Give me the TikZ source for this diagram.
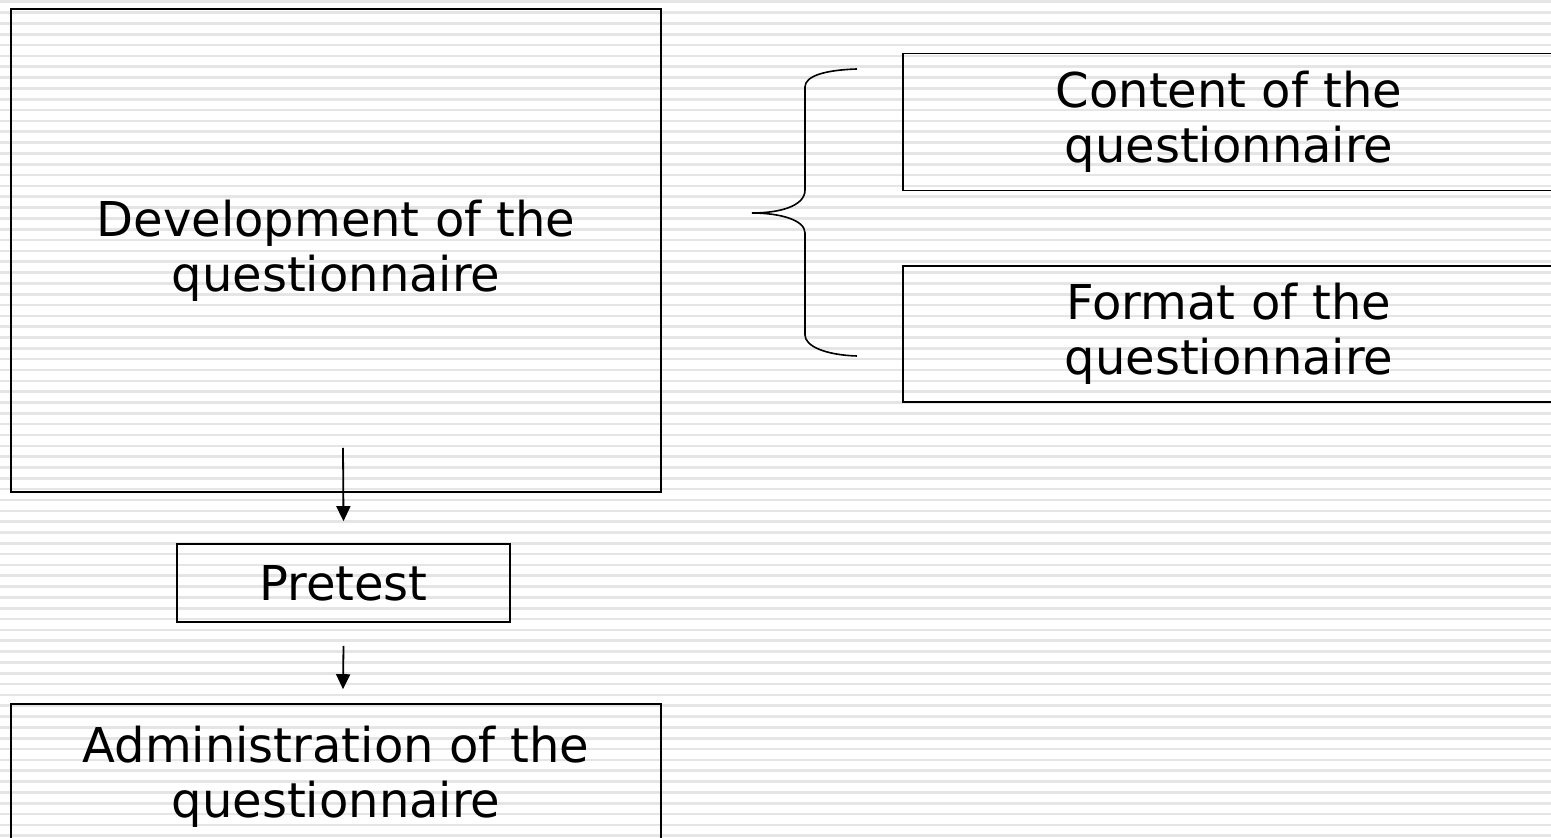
\documentclass[tikz,border=0pt]{standalone}
\usepackage{fontspec}
\setmainfont{DejaVu Sans}
\usetikzlibrary{arrows.meta}

\begin{document}
\begin{tikzpicture}[x=1pt,y=1pt,
  box/.style={draw=black,line width=1.6pt,align=center,inner sep=0pt,
    font=\fontsize{48}{55}\selectfont},
  arr/.style={line width=1.8pt,-{Triangle[length=15pt,width=14pt]}},
  stripe/.style={black!10,line width=2.6pt}]
\useasboundingbox (0,0) rectangle (1551,838);
\foreach \k in {0,...,77}
  \draw [stripe] (0,{836.2-10.83*\k}) -- (1551,{836.2-10.83*\k});
\node [box,minimum width=650,minimum height=483] (dev) at (336,587.5) {Development of the\\questionnaire};
\node [box,minimum width=333,minimum height=78] (pretest) at (343.5,255) {Pretest};
\node [box,minimum width=650,minimum height=146] (admin) at (336,61) {Administration of the\\questionnaire};
\node [box,minimum width=652,minimum height=137] (content) at (1229,716) {Content of the\\questionnaire};
\node [box,minimum width=652,minimum height=136] (format) at (1229,504) {Format of the\\questionnaire};
\draw [arr] ([xshift=7pt,yshift=45pt]dev.south) -- ([yshift=22pt]pretest.north);
\draw [arr] ([yshift=-23pt]pretest.south) -- ([xshift=7pt,yshift=14pt]admin.north);
\draw [line width=1.6pt] (857,769) .. controls (825,768) and (805,762) .. (805,751)
  -- (805,648) .. controls (805,632) and (780,625) .. (752,625)
  .. controls (780,625) and (805,618) .. (805,605)
  -- (805,503) .. controls (805,492) and (825,483) .. (857,482);
\end{tikzpicture}
\end{document}
